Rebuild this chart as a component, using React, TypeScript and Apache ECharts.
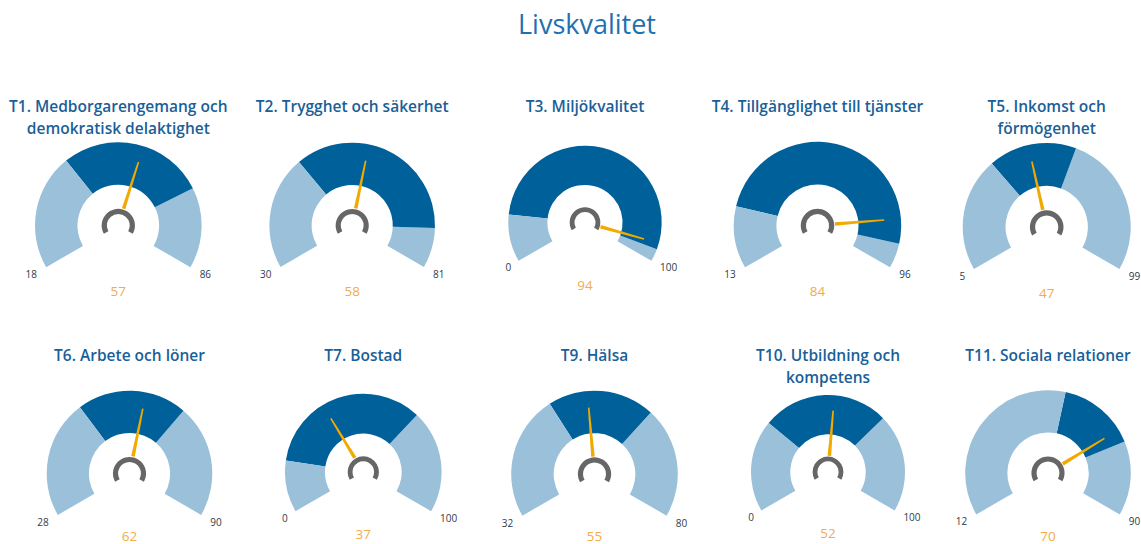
import React, { useEffect, useRef } from 'react';
import * as echarts from 'echarts';

const MAIN_TITLE = 'Livskvalitet';
const TITLES = [
  'T1. Medborgarengemang och\ndemokratisk delaktighet',
  'T2. Trygghet och säkerhet',
  'T3. Miljökvalitet',
  'T4. Tillgänglighet till tjänster',
  'T5. Inkomst och\nförmögenhet',
  'T6. Arbete och löner',
  'T7. Bostad',
  'T9. Hälsa',
  'T10. Utbildning och\nkompetens',
  'T11. Sociala relationer',
];
const MINS = [18, 30, 0, 13, 5, 28, 0, 32, 0, 12];
const MAXS = [86, 81, 100, 96, 99, 90, 100, 80, 100, 90];
const VALUES = [57, 58, 94, 84, 47, 62, 37, 55, 52, 70];
const BAND_LOW = [41, 47, 15, 28, 36, 49.5, 16, 49.5, 29, 55];
const BAND_HIGH = [70, 75, 96, 90, 60, 69.5, 68, 64.5, 69, 73];

// layout (pixel geometry of each gauge)
const LAYOUT = [
  { cx: 118.3, cy: 225.5, r: 83.3, ty: 95, vy: 0 },
  { cx: 352.2, cy: 225.5, r: 82.8, ty: 95, vy: 0 },
  { cx: 585, cy: 222.5, r: 76.7, ty: 95, vy: 0 },
  { cx: 817.5, cy: 225.5, r: 83.7, ty: 95, vy: 0 },
  { cx: 1046.7, cy: 227, r: 84, ty: 95, vy: 0 },
  { cx: 129.5, cy: 473.5, r: 82.8, ty: 344, vy: -2.5 },
  { cx: 363.3, cy: 472, r: 78.3, ty: 344, vy: -1.5 },
  { cx: 594.5, cy: 474, r: 83.3, ty: 344, vy: -3 },
  { cx: 828, cy: 472, r: 77, ty: 344, vy: -1.5 },
  { cx: 1048, cy: 473, r: 82.8, ty: 344, vy: -2.5 },
];

const DARK = '#00609A';
const LIGHT = '#9BC0D9';
const NEEDLE = '#F2A900';
const VALUE_COLOR = '#F2AC4A';
const ARC_GRAY = '#666666';
const TITLE_COLOR = '#1A5F98';
const LABEL_COLOR = '#2F3B4C';
const FONT = '"Open Sans", "Noto Sans", sans-serif';

export default function App() {
  const ref = useRef<HTMLDivElement>(null);
  useEffect(() => {
    document.body.style.margin = '0';
    const chart = echarts.init(ref.current!, null, { renderer: 'svg' });
    const series: any[] = [];
    const graphic: any[] = [
      {
        type: 'text',
        x: 587,
        y: 23,
        style: {
          text: MAIN_TITLE,
          fill: '#1F70B0',
          fontSize: 27,
          fontFamily: FONT,
          align: 'center',
          verticalAlign: 'middle',
        },
      },
    ];

    TITLES.forEach((title, i) => {
      const { cx, cy, r, ty, vy } = LAYOUT[i];
      const min = MINS[i];
      const max = MAXS[i];
      const span = max - min;
      const f1 = (BAND_LOW[i] - min) / span;
      const f2 = (BAND_HIGH[i] - min) / span;
      series.push({
        type: 'gauge',
        center: [cx, cy],
        radius: r,
        startAngle: 210,
        endAngle: -30,
        min,
        max,
        splitNumber: 1,
        axisLine: {
          lineStyle: {
            width: r * 0.51,
            color: [
              [f1, LIGHT],
              [f2, DARK],
              [1, LIGHT],
            ],
          },
        },
        axisTick: { show: false },
        splitLine: { show: false },
        axisLabel: { show: false },
        anchor: { show: false },
        title: { show: false },
        pointer: {
          show: true,
          icon: 'path://M0,100 L4,100 L2.9,0 L1.1,0 Z',
          width: 3.6,
          length: '59%',
          offsetCenter: [0, '-21%'],
          itemStyle: { color: NEEDLE },
        },
        detail: {
          show: true,
          offsetCenter: [0, 0.4 * r + 32 + vy],
          formatter: '{value}',
          color: VALUE_COLOR,
          fontSize: 13.5,
          fontFamily: FONT,
          fontWeight: 'normal',
        },
        data: [{ value: VALUES[i] }],
      });
      // small gray arc around the needle hub
      series.push({
        type: 'gauge',
        center: [cx, cy],
        radius: r * 0.2,
        startAngle: 210,
        endAngle: -30,
        min,
        max,
        axisLine: { lineStyle: { width: r * 0.062, color: [[1, ARC_GRAY]] } },
        axisTick: { show: false },
        splitLine: { show: false },
        axisLabel: { show: false },
        anchor: { show: false },
        title: { show: false },
        pointer: { show: false },
        detail: { show: false },
        silent: true,
        data: [],
      });

      graphic.push({
        type: 'text',
        x: cx,
        y: ty,
        style: {
          text: title,
          fill: TITLE_COLOR,
          fontSize: 15.5,
          fontWeight: 600,
          fontFamily: FONT,
          lineHeight: 22,
          align: 'center',
          verticalAlign: 'top',
        },
      });
      const minTxt = String(min);
      const maxTxt = String(max);
      const ly = cy + 0.585 * r;
      graphic.push({
        type: 'text',
        x: cx - (1.045 * r + (minTxt.length - 2) * 3.5),
        y: ly,
        style: {
          text: minTxt,
          fill: LABEL_COLOR,
          fontSize: 10,
          fontFamily: FONT,
          align: 'center',
          verticalAlign: 'middle',
        },
      });
      graphic.push({
        type: 'text',
        x: cx + (1.045 * r + (maxTxt.length - 2) * 3.5),
        y: ly,
        style: {
          text: maxTxt,
          fill: LABEL_COLOR,
          fontSize: 10,
          fontFamily: FONT,
          align: 'center',
          verticalAlign: 'middle',
        },
      });
    });

    chart.setOption({
      animation: false,
      backgroundColor: '#ffffff',
      series,
      graphic,
    });
    return () => chart.dispose();
  }, []);
  return <div ref={ref} style={{ width: 1141, height: 544 }} />;
}
